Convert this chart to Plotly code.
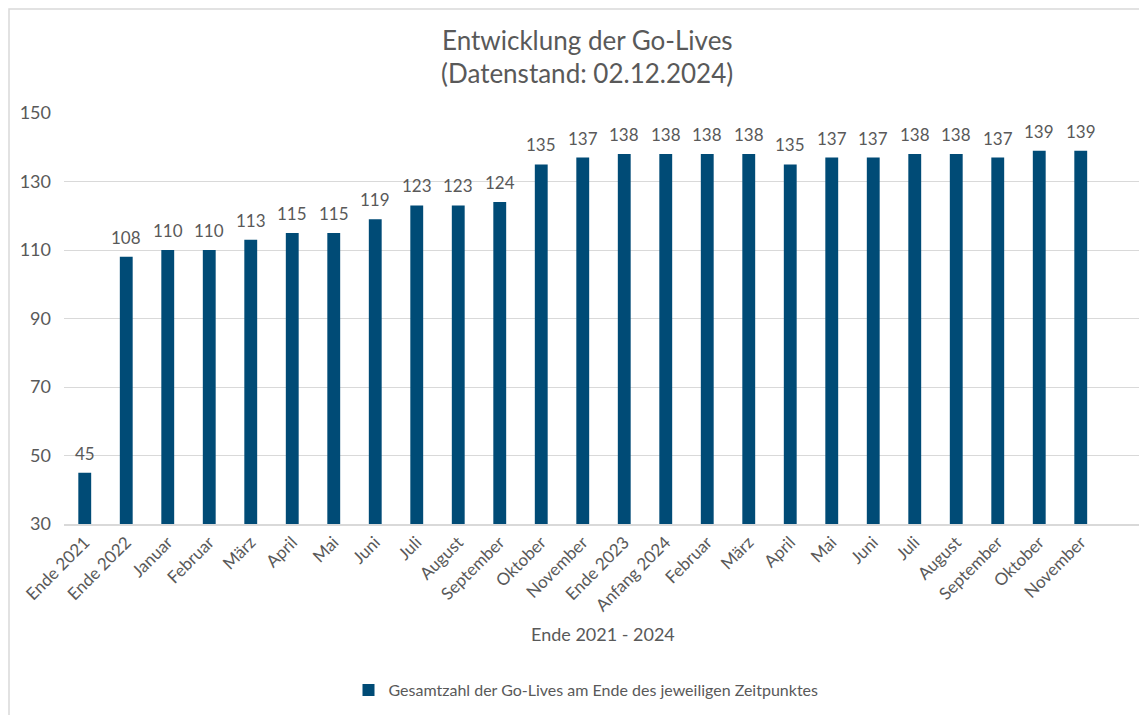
import plotly.graph_objects as go

categories = ["Ende 2021", "Ende 2022", "Januar", "Februar", "März", "April", "Mai", "Juni",
              "Juli", "August", "September", "Oktober", "November", "Ende 2023", "Anfang 2024",
              "Februar", "März", "April", "Mai", "Juni", "Juli", "August", "September",
              "Oktober", "November"]
values = [45, 108, 110, 110, 113, 115, 115, 119, 123, 123, 124, 135, 137, 138, 138,
          138, 138, 135, 137, 137, 138, 138, 137, 139, 139]
y_ticks = [30, 50, 70, 90, 110, 130, 150]

title_lines = ["Entwicklung der Go-Lives", "(Datenstand: 02.12.2024)"]
x_title = "Ende 2021 - 2024"
series_name = "Gesamtzahl der Go-Lives am Ende des jeweiligen Zeitpunktes"
bar_color = "#004B76"
text_color = "#595959"
grid_color = "#D9D9D9"
font_family = "Lato"

# page body has an 8px margin; figure sized so it fits the window
OFF = 8
W, H = 1147 - OFF, 715 - OFF
ml, mr, mt, mb = 64 - OFF, 4, 113 - OFF, 191
plot_w = W - ml - mr
plot_h = H - mt - mb


def px_x(sx):
    return (sx - OFF - ml) / plot_w


def px_y(sy):
    return (H - mb - (sy - OFF)) / plot_h


xs = list(range(len(categories)))

fig = go.Figure()
fig.add_trace(go.Bar(
    x=xs, y=values, name=series_name,
    marker=dict(color=bar_color, line=dict(width=0)),
    width=0.31,
    showlegend=True,
    hoverinfo="x+y",
))

annotations = []
for xi, v in zip(xs, values):
    annotations.append(dict(
        x=xi, y=v, xref="x", yref="y", text=str(v), showarrow=False,
        xanchor="center", yanchor="bottom", yshift=7,
        font=dict(family=font_family, size=17, color=text_color)))

annotations.append(dict(text=title_lines[0], x=px_x(587), y=px_y(40), xref="paper", yref="paper",
                        xanchor="center", yanchor="middle", showarrow=False,
                        font=dict(family=font_family, size=26, color=text_color)))
annotations.append(dict(text=title_lines[1], x=px_x(587), y=px_y(73), xref="paper", yref="paper",
                        xanchor="center", yanchor="middle", showarrow=False,
                        font=dict(family=font_family, size=26, color=text_color)))
annotations.append(dict(text=x_title, x=px_x(603), y=px_y(634), xref="paper", yref="paper",
                        xanchor="center", yanchor="middle", showarrow=False,
                        font=dict(family=font_family, size=18, color=text_color)))

fig.update_layout(
    width=W, height=H,
    margin=dict(l=ml, r=mr, t=mt, b=mb),
    paper_bgcolor="white", plot_bgcolor="white",
    font=dict(family=font_family, color=text_color),
    xaxis=dict(range=[-0.5, 25.5], tickvals=xs, ticktext=categories, tickangle=-45,
               tickfont=dict(family=font_family, size=17, color=text_color),
               showgrid=False, showline=True, linecolor=grid_color, linewidth=1.5,
               ticks="", zeroline=False),
    yaxis=dict(range=[30, 150], tickvals=y_ticks, showgrid=True, gridcolor=grid_color,
               gridwidth=1.3, zeroline=False, showline=False, ticks="",
               tickfont=dict(family=font_family, size=18, color=text_color),
               ticklabelstandoff=12),
    legend=dict(orientation="h", x=px_x(586), xanchor="center", y=px_y(690), yanchor="middle",
                font=dict(family=font_family, size=16, color=text_color),
                itemwidth=30),
    annotations=annotations,
    shapes=[dict(type="rect", xref="paper", yref="paper",
                 x0=px_x(OFF + 1), x1=px_x(1160), y0=px_y(730), y1=px_y(OFF + 1),
                 line=dict(color=grid_color, width=1.5), fillcolor="rgba(0,0,0,0)",
                 layer="below")],
)

fig.write_html("out.html")
